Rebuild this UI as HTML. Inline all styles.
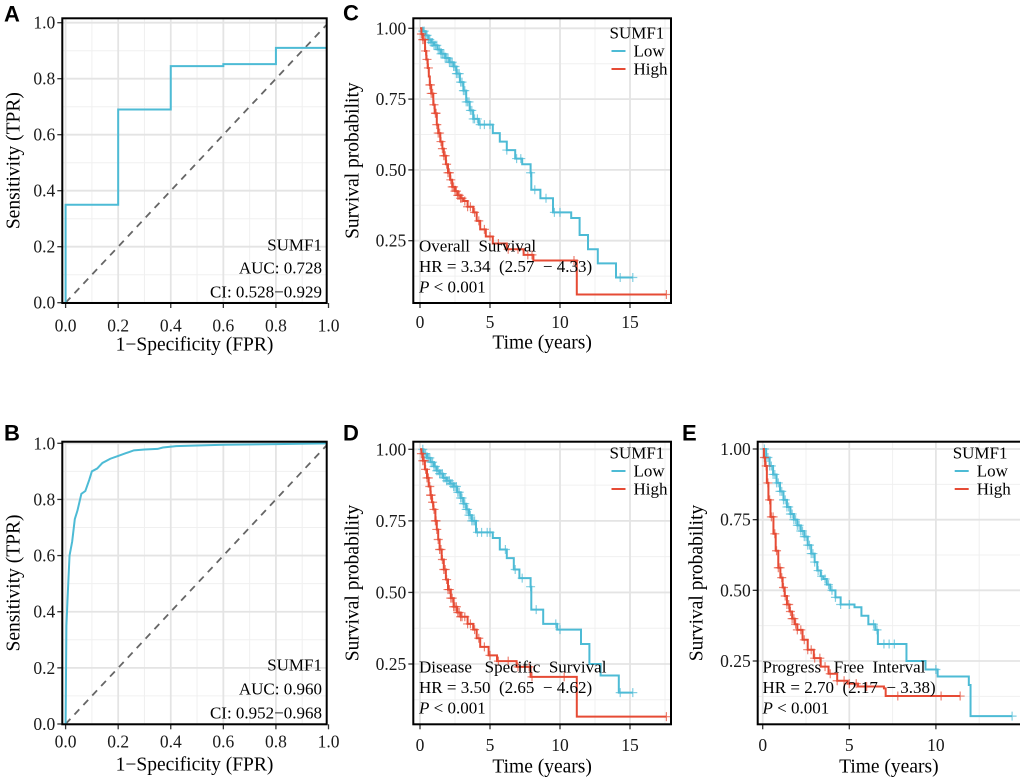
<!DOCTYPE html>
<html><head><meta charset="utf-8"><style>
html,body{margin:0;padding:0;background:#fff;}
svg{display:block;font-family:"Liberation Serif",serif;}
.tick{font-size:17.5px;fill:#1a1a1a;}
.ttl{font-size:19.5px;fill:#000;}
.ann{font-size:17px;fill:#000;white-space:pre;}
.lab{font-family:"Liberation Sans",sans-serif;font-weight:bold;font-size:22px;fill:#000;}
</style></head><body>
<svg id="fig" width="1020" height="782" viewBox="0 0 1020 782" xmlns="http://www.w3.org/2000/svg"></svg>
<script>
// ROC A
const rocA_fpr=[0,0,0.2,0.2,0.4,0.4,0.6,0.6,0.8,0.8,1];
const rocA_tpr=[0,0.35,0.35,0.69,0.69,0.845,0.845,0.852,0.852,0.91,0.91];
// ROC B
const rocB_fpr=[0,0.003,0.01,0.015,0.025,0.035,0.045,0.06,0.075,0.09,0.1,0.12,0.14,0.17,0.2,0.23,0.26,0.3,0.35,0.37,0.42,0.6,0.8,1];
const rocB_tpr=[0,0.35,0.5,0.6,0.65,0.73,0.76,0.82,0.83,0.87,0.9,0.91,0.93,0.945,0.955,0.965,0.975,0.978,0.98,0.985,0.99,0.995,0.997,1];
const rocTicks=[0,0.2,0.4,0.6,0.8,1.0];
const rocTickLabels=["0.0","0.2","0.4","0.6","0.8","1.0"];
// KM C
const cLowT=[0,0.2,0.4,0.6,0.8,1.0,1.25,1.5,1.8,2.1,2.4,2.6,2.85,3.1,3.3,3.55,3.8,4.2,5.2,5.7,6.2,6.8,7.3,7.9,7.95,8.6,9.5,10.8,11.4,12.0,12.7,14.0,15.2];
const cLowS=[1,0.99,0.975,0.96,0.95,0.94,0.925,0.91,0.895,0.88,0.865,0.84,0.81,0.78,0.74,0.71,0.68,0.66,0.63,0.60,0.57,0.54,0.52,0.49,0.43,0.40,0.35,0.33,0.27,0.22,0.17,0.12,0.12];
const cHighT=[0,0.1,0.2,0.36,0.45,0.55,0.63,0.7,0.8,0.95,1.05,1.2,1.3,1.45,1.6,1.7,1.85,2.0,2.15,2.3,2.5,2.7,2.9,3.1,3.4,3.8,4.05,4.3,4.7,5.2,6.2,7.4,8.1,11.1,11.2,17.6];
const cHighS=[1,0.98,0.96,0.92,0.89,0.86,0.83,0.80,0.77,0.73,0.70,0.66,0.63,0.60,0.575,0.55,0.52,0.49,0.465,0.44,0.425,0.41,0.40,0.39,0.37,0.35,0.32,0.29,0.265,0.24,0.22,0.20,0.18,0.18,0.06,0.06];
const cLowCens=[0.2,0.3,0.4,0.5,0.6,0.7,0.8,0.9,1.0,1.1,1.2,1.3,1.4,1.5,1.6,1.7,1.8,1.9,2.0,2.1,2.2,2.3,2.4,2.5,2.6,2.7,2.8,2.9,3.0,3.1,3.2,3.3,3.4,3.5,3.6,3.7,3.8,3.9,4.1,4.3,4.6,5.0,6.2,6.9,7.2,7.9,8.2,9.0,9.6,10.0,14.3,15.2];
const cHighCens=[0.1,0.2,0.3,0.4,0.5,0.6,0.7,0.75,0.8,0.9,1.0,1.1,1.15,1.2,1.3,1.4,1.5,1.6,1.7,1.8,1.9,2.0,2.1,2.2,2.3,2.4,2.5,2.6,2.7,2.8,2.9,3.0,3.2,3.4,3.6,3.9,4.2,4.6,5.0,5.6,6.3,7.0,7.7,8.0,11.0,17.6];
// KM D
const dLowT=[0,0.25,0.5,0.75,1.0,1.2,1.4,1.65,1.9,2.15,2.4,2.65,2.9,3.1,3.3,3.5,3.7,4.0,5.2,5.7,6.2,6.7,7.1,7.9,7.95,8.8,9.8,11.5,12.1,12.9,14.2,15.2];
const dLowS=[1,0.985,0.97,0.955,0.94,0.925,0.915,0.90,0.89,0.88,0.87,0.85,0.83,0.81,0.79,0.77,0.75,0.71,0.69,0.65,0.62,0.58,0.55,0.52,0.44,0.39,0.37,0.32,0.25,0.21,0.15,0.15];
const dHighT=[0,0.1,0.2,0.35,0.5,0.62,0.75,0.85,0.95,1.1,1.2,1.3,1.4,1.55,1.7,1.85,2.0,2.2,2.4,2.65,2.9,3.4,3.8,4.05,4.3,4.9,5.5,6.9,7.9,11.1,11.2,17.6];
const dHighS=[1,0.985,0.96,0.93,0.90,0.87,0.84,0.815,0.79,0.75,0.72,0.685,0.65,0.615,0.58,0.545,0.51,0.48,0.45,0.43,0.415,0.39,0.37,0.34,0.31,0.28,0.26,0.24,0.205,0.205,0.066,0.066];
const dLowCens=[0.2,0.3,0.4,0.5,0.6,0.7,0.8,0.9,1.0,1.1,1.2,1.3,1.4,1.5,1.6,1.7,1.8,1.9,2.0,2.1,2.2,2.3,2.4,2.5,2.6,2.7,2.8,2.9,3.0,3.1,3.2,3.3,3.4,3.5,3.6,3.7,3.8,3.9,4.1,4.4,4.8,5.0,6.1,6.8,7.3,7.9,8.3,9.7,10.0,14.3,15.2];
const dHighCens=[0.1,0.2,0.3,0.4,0.5,0.6,0.7,0.75,0.8,0.9,1.0,1.1,1.15,1.2,1.3,1.4,1.5,1.6,1.7,1.8,1.9,2.0,2.1,2.2,2.3,2.4,2.5,2.6,2.7,2.8,2.9,3.0,3.2,3.4,3.6,3.9,4.2,4.6,5.0,5.6,6.3,7.0,7.8,8.0,10.3,17.6];
// KM E
const eLowT=[0,0.2,0.4,0.6,0.8,1.0,1.2,1.4,1.6,1.8,2.0,2.2,2.4,2.6,2.8,3.0,3.15,3.35,3.5,3.7,3.9,4.2,4.5,5.3,5.7,6.1,6.5,6.65,8.2,8.3,9.4,10.1,11.9,12.0,14.4];
const eLowS=[1,0.97,0.94,0.91,0.88,0.85,0.82,0.795,0.77,0.75,0.73,0.71,0.69,0.66,0.63,0.60,0.57,0.55,0.54,0.52,0.50,0.475,0.45,0.44,0.41,0.38,0.36,0.31,0.31,0.25,0.22,0.195,0.165,0.055,0.055];
const eHighT=[0,0.07,0.14,0.24,0.33,0.45,0.62,0.75,0.9,1.02,1.15,1.27,1.4,1.55,1.7,1.85,2.0,2.3,2.6,2.95,3.35,3.8,4.3,4.9,5.5,7.0,7.1,11.4];
const eHighS=[1,0.97,0.94,0.88,0.82,0.76,0.70,0.64,0.58,0.545,0.51,0.48,0.45,0.425,0.40,0.38,0.36,0.325,0.29,0.26,0.23,0.205,0.18,0.17,0.16,0.153,0.126,0.126];
const eLowCens=[0.1,0.2,0.3,0.4,0.5,0.6,0.7,0.8,0.9,1.0,1.1,1.2,1.3,1.4,1.5,1.6,1.7,1.8,1.9,2.0,2.1,2.2,2.3,2.4,2.5,2.6,2.7,2.8,2.9,3.0,3.2,3.4,3.6,3.8,4.0,4.2,4.5,5.0,6.4,6.6,7.0,7.3,7.6,10.0,14.4];
const eHighCens=[0.1,0.2,0.3,0.4,0.5,0.6,0.7,0.8,0.9,1.0,1.1,1.2,1.3,1.4,1.5,1.6,1.7,1.8,1.9,2.0,2.2,2.4,2.6,2.8,3.0,3.3,3.6,3.9,4.3,4.7,5.0,5.4,6.0,7.8,10.3,11.4];
const kmYTicks=[0.25,0.50,0.75,1.00];
const kmYTickLabels=["0.25","0.50","0.75","1.00"];
const kmXTicksCD=[0,5,10,15];
const kmXTicksE=[0,5,10];

const NS="http://www.w3.org/2000/svg";
const svg=document.getElementById('fig');
const LOW="#4DBBD5", HIGH="#E64B35";
function mk(tag,attrs,parent){const e=document.createElementNS(NS,tag);for(const k in attrs)e.setAttribute(k,attrs[k]);(parent||svg).appendChild(e);return e;}
function txt(s,x,y,cls,anchor,parent){const t=mk('text',{x:x,y:y,'class':cls,'text-anchor':anchor||'start','dominant-baseline':'central'},parent);t.textContent=s;return t;}

function panel(cfg){
  const g=mk('g',{});
  
  
  const sx=v=>cfg.x0+(v-cfg.xmin)*(cfg.x1-cfg.x0)/(cfg.xmax-cfg.xmin);
  const sy=v=>cfg.y0+(v-cfg.ymin)*(cfg.y1-cfg.y0)/(cfg.ymax-cfg.ymin);
  cfg.sx=sx;cfg.sy=sy;cfg.g=g;
  const clipId='clip-'+cfg.name;
  const cp=mk('clipPath',{id:clipId},g);mk('rect',{x:cfg.bl,y:cfg.bt,width:cfg.br-cfg.bl,height:cfg.bb-cfg.bt},cp);
  mk('rect',{x:cfg.bl,y:cfg.bt,width:cfg.br-cfg.bl,height:cfg.bb-cfg.bt,fill:'#fff'},g);
  const grid=mk('g',{'clip-path':'url(#'+clipId+')'},g);
  
  
  cfg.minorX.forEach(v=>mk('line',{x1:sx(v),x2:sx(v),y1:cfg.bt,y2:cfg.bb,stroke:'#f0f0f0','stroke-width':1},grid));
  cfg.minorY.forEach(v=>mk('line',{y1:sy(v),y2:sy(v),x1:cfg.bl,x2:cfg.br,stroke:'#f0f0f0','stroke-width':1},grid));
  cfg.xt.forEach(v=>mk('line',{x1:sx(v),x2:sx(v),y1:cfg.bt,y2:cfg.bb,stroke:'#e4e4e4','stroke-width':1.8},grid));
  cfg.yt.forEach(v=>mk('line',{y1:sy(v),y2:sy(v),x1:cfg.bl,x2:cfg.br,stroke:'#e4e4e4','stroke-width':1.8},grid));
  const plot=mk('g',{'clip-path':'url(#'+clipId+')'},g);
  cfg.plot=plot;
  cfg.xt.forEach((v,i)=>{mk('line',{x1:sx(v),x2:sx(v),y1:cfg.bb,y2:cfg.bb+5,stroke:'#333','stroke-width':1.3},g);
    const t=txt(cfg.xl[i],sx(v),cfg.xty,'tick','middle',g);});
  cfg.yt.forEach((v,i)=>{mk('line',{x1:cfg.bl-5,x2:cfg.bl,y1:sy(v),y2:sy(v),stroke:'#333','stroke-width':1.3},g);
    const t=txt(cfg.yl[i],cfg.bl-7,sy(v),'tick','end',g);});
  const xtt=txt(cfg.xtitle,(cfg.bl+Math.min(cfg.br,1020))/2,cfg.xtitleY,'ttl','middle',g);
  
  const ytt=txt(cfg.ytitle,0,0,'ttl','middle',g);
  ytt.setAttribute('transform','translate('+cfg.ytitleX+','+(cfg.bt+cfg.bb)/2+') rotate(-90)');
  
  const lb=txt(cfg.letter,cfg.lx,cfg.ly,'lab','start',g);
  
  return cfg;
}
function border(cfg){
  const b=mk('rect',{x:cfg.bl,y:cfg.bt,width:cfg.br-cfg.bl,height:cfg.bb-cfg.bt,fill:'none',stroke:'#000','stroke-width':2},cfg.g);
  
}
function roc(cfg,fpr,tpr,annLines){
  const p=cfg.plot;
  const d=mk('line',{x1:cfg.sx(0),y1:cfg.sy(0),x2:cfg.sx(1),y2:cfg.sy(1),stroke:'#666','stroke-width':1.8,'stroke-dasharray':'7,6'},p);
  
  let s='';fpr.forEach((v,i)=>{s+=(i?'L':'M')+cfg.sx(v).toFixed(2)+','+cfg.sy(tpr[i]).toFixed(2);});
  const c=mk('path',{d:s,fill:'none',stroke:LOW,'stroke-width':2},p);
  
  border(cfg);
  annLines.forEach((a,i)=>{const t=txt(a[0],322,a[1],'ann','end',cfg.g);});
}
function stepVal(T,S,t){let v=S[0];for(let i=0;i<T.length;i++){if(T[i]<=t)v=S[i];}return v;}
function km(cfg,T,S,C,color,name){
  const p=cfg.plot;
  let s='M'+cfg.sx(T[0]).toFixed(2)+','+cfg.sy(S[0]).toFixed(2);
  for(let i=1;i<T.length;i++){s+='H'+cfg.sx(T[i]).toFixed(2)+'V'+cfg.sy(S[i]).toFixed(2);}
  const c=mk('path',{d:s,fill:'none',stroke:color,'stroke-width':2},p);
  
  C.forEach(t=>{const x=cfg.sx(t),y=cfg.sy(stepVal(T,S,t));
    const m=mk('path',{d:'M'+(x-4.5)+','+y+'H'+(x+4.5)+'M'+x+','+(y-4.5)+'V'+(y+4.5),stroke:color,'stroke-width':1.2,'stroke-opacity':0.7},p);
    });
}
function kmText(cfg,lx,ly,ax,ay,title){
  const g=cfg.g;
  const t0=txt('SUMF1',lx,ly,'ann','start',g);
  const l1=mk('line',{x1:lx+2,x2:lx+16,y1:ly+18,y2:ly+18,stroke:LOW,'stroke-width':2},g);
  const t1=txt('Low',lx+24,ly+18,'ann','start',g);
  const l2=mk('line',{x1:lx+2,x2:lx+16,y1:ly+36,y2:ly+36,stroke:HIGH,'stroke-width':2},g);
  const t2=txt('High',lx+24,ly+36,'ann','start',g);
  const a1=txt(title[0],ax,ay,'ann','start',g);
  const a2=txt(title[1],ax,ay+20.5,'ann','start',g);
  const a3=mk('text',{x:ax,y:ay+40.5,'class':'ann','dominant-baseline':'central'},g);
  
  const it=mk('tspan',{'font-style':'italic'},a3);it.textContent='P';
  const rest=mk('tspan',{},a3);rest.textContent=' < 0.001';
}

const rocMinor=[0.1,0.3,0.5,0.7,0.9];
const A=panel({name:'panel-a-roc',letter:'A',lx:4,ly:14,bl:62.3,br:326.7,bt:18.3,bb:303,x0:65.6,x1:328.5,xmin:0,xmax:1,y0:302.7,y1:22.7,ymin:0,ymax:1,
  xt:rocTicks,xl:rocTickLabels,yt:rocTicks,yl:rocTickLabels,minorX:rocMinor,minorY:rocMinor,xty:325.5,xtitle:'1\u2212Specificity (FPR)',xtitleY:345,ytitle:'Sensitivity (TPR)',ytitleX:14});
roc(A,rocA_fpr,rocA_tpr,[['SUMF1',245],['AUC: 0.728',268],['CI: 0.528\u22120.929',292]]);
const B=panel({name:'panel-b-roc',letter:'B',lx:4,ly:433,bl:62.3,br:326.7,bt:441.7,bb:724.3,x0:65.6,x1:328.5,xmin:0,xmax:1,y0:724,y1:443.3,ymin:0,ymax:1,
  xt:rocTicks,xl:rocTickLabels,yt:rocTicks,yl:rocTickLabels,minorX:rocMinor,minorY:rocMinor,xty:741.7,xtitle:'1\u2212Specificity (FPR)',xtitleY:765,ytitle:'Sensitivity (TPR)',ytitleX:14});
roc(B,rocB_fpr,rocB_tpr,[['SUMF1',665],['AUC: 0.960',689],['CI: 0.952\u22120.968',713]]);
const C=panel({name:'panel-c-overall-survival',letter:'C',lx:343,ly:13,bl:413.3,br:671,bt:18.3,bb:303,x0:420,x1:490,xmin:0,xmax:5,y0:240.7,y1:28.3,ymin:0.25,ymax:1,
  xt:kmXTicksCD,xl:kmXTicksCD.map(String),yt:kmYTicks,yl:kmYTickLabels,minorX:[2.5,7.5,12.5,17.5],minorY:[0.125,0.375,0.625,0.875],xty:322,xtitle:'Time (years)',xtitleY:343,ytitle:'Survival probability',ytitleX:353});
km(C,cLowT,cLowS,cLowCens,LOW,'low');km(C,cHighT,cHighS,cHighCens,HIGH,'high');border(C);
kmText(C,609.5,33,419,246,['Overall  Survival','HR = 3.34  (2.57  \u2212 4.33)']);
const D=panel({name:'panel-d-disease-specific-survival',letter:'D',lx:343,ly:433,bl:413.3,br:671,bt:441.7,bb:724.3,x0:420,x1:490,xmin:0,xmax:5,y0:664,y1:449.3,ymin:0.25,ymax:1,
  xt:kmXTicksCD,xl:kmXTicksCD.map(String),yt:kmYTicks,yl:kmYTickLabels,minorX:[2.5,7.5,12.5,17.5],minorY:[0.125,0.375,0.625,0.875],xty:745,xtitle:'Time (years)',xtitleY:767,ytitle:'Survival probability',ytitleX:353});
km(D,dLowT,dLowS,dLowCens,LOW,'low');km(D,dHighT,dHighS,dHighCens,HIGH,'high');border(D);
kmText(D,609.5,453,419,667,['Disease   Specific  Survival','HR = 3.50  (2.65  \u2212 4.62)']);
const E=panel({name:'panel-e-progress-free-interval',letter:'E',lx:682,ly:433,bl:757.7,br:1024,bt:441.7,bb:724.3,x0:762.7,x1:849.3,xmin:0,xmax:5,y0:661,y1:449,ymin:0.25,ymax:1,
  xt:kmXTicksE,xl:kmXTicksE.map(String),yt:kmYTicks,yl:kmYTickLabels,minorX:[2.5,7.5,12.5],minorY:[0.125,0.375,0.625,0.875],xty:745,xtitle:'Time (years)',xtitleY:767,ytitle:'Survival probability',ytitleX:697});
km(E,eLowT,eLowS,eLowCens,LOW,'low');km(E,eHighT,eHighS,eHighCens,HIGH,'high');border(E);
kmText(E,952.7,453,762.5,667,['Progress   Free  Interval','HR = 2.70  (2.17  \u2212 3.38)']);
</script>
</body></html>
